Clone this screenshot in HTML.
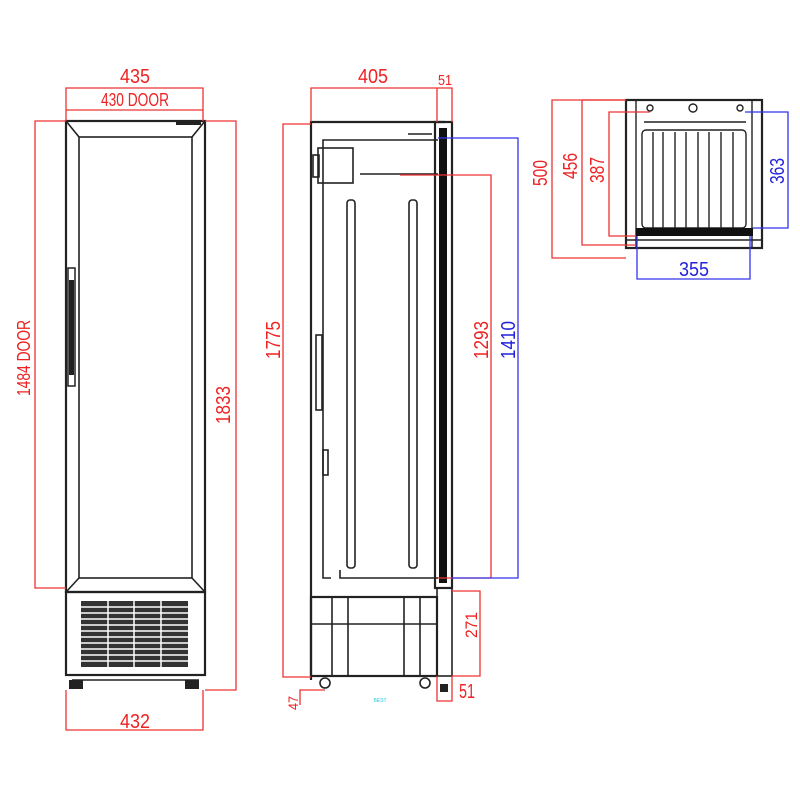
<!DOCTYPE html>
<html><head><meta charset="utf-8"><style>html,body{margin:0;padding:0;background:#fff}svg{display:block}text{font-family:"Liberation Sans",sans-serif}</style></head><body>
<svg width="800" height="800" viewBox="0 0 800 800" xmlns="http://www.w3.org/2000/svg">
<rect width="800" height="800" fill="#fff"/>
<!-- FRONT VIEW -->
<g fill="none" stroke="#222" stroke-width="1.6">
<rect x="66" y="121" width="139" height="471" stroke-width="2.2"/>
<rect x="79" y="137" width="113" height="441"/>
<line x1="66" y1="121" x2="79" y2="137"/><line x1="205" y1="121" x2="192" y2="137"/>
<line x1="66" y1="592" x2="79" y2="578"/><line x1="205" y1="592" x2="192" y2="578"/>
<rect x="66" y="592" width="139" height="83" stroke-width="2.2"/>
<line x1="72" y1="675" x2="199" y2="675"/><line x1="72" y1="680" x2="199" y2="680"/>
</g>
<rect x="176" y="121" width="25" height="4" fill="#222"/>
<rect x="68" y="268" width="7" height="118" fill="none" stroke="#222" stroke-width="1.5"/>
<rect x="69" y="280" width="5" height="95" fill="#222"/>
<rect x="81" y="601" width="107" height="66" fill="#333"/>
<g stroke="#fff" stroke-width="1.5">
<line x1="81" y1="607" x2="188" y2="607"/><line x1="81" y1="613" x2="188" y2="613"/><line x1="81" y1="619" x2="188" y2="619"/><line x1="81" y1="625" x2="188" y2="625"/><line x1="81" y1="631" x2="188" y2="631"/><line x1="81" y1="637" x2="188" y2="637"/><line x1="81" y1="643" x2="188" y2="643"/><line x1="81" y1="649" x2="188" y2="649"/><line x1="81" y1="655" x2="188" y2="655"/><line x1="81" y1="661" x2="188" y2="661"/>
<line x1="108" y1="601" x2="108" y2="667"/><line x1="134" y1="601" x2="134" y2="667"/><line x1="161" y1="601" x2="161" y2="667"/>
</g>
<rect x="69" y="680" width="14" height="9" fill="#222"/><rect x="185" y="680" width="14" height="9" fill="#222"/>
<g stroke="#e33" stroke-width="1.3" fill="none">
<polyline points="66,121 66,88 203,88 203,121"/>
<line x1="66" y1="110" x2="203" y2="110"/>
<polyline points="66,121 35,121 35,588 66,588"/>
<polyline points="205,121 236,121 236,690 205,690"/>
<polyline points="66,690 66,730 203,730 203,690"/>
</g>
<g fill="#e22" font-size="20" text-anchor="middle">
<text x="135" y="83" textLength="30" lengthAdjust="spacingAndGlyphs">435</text>
<text x="135" y="106" font-size="18" textLength="68" lengthAdjust="spacingAndGlyphs">430 DOOR</text>
<text x="135" y="728" textLength="30" lengthAdjust="spacingAndGlyphs">432</text>
<text transform="translate(30,358) rotate(-90)" font-size="18" textLength="76" lengthAdjust="spacingAndGlyphs">1484 DOOR</text>
<text transform="translate(236,405) rotate(-90)" y="-6" textLength="38" lengthAdjust="spacingAndGlyphs">1833</text>
</g>
<!-- SIDE VIEW -->
<g fill="none" stroke="#222" stroke-width="1.6">
<polyline points="311,680 311,122 445,122" stroke-width="2.2"/>
<polyline points="331,578 323,578 323,140 438,140"/>
<polyline points="340,570 340,578 438,578"/>
<rect x="318" y="148" width="35" height="35"/>
<rect x="313" y="155" width="6" height="22"/>
<line x1="360" y1="174" x2="438" y2="174"/>
<rect x="347" y="200" width="8" height="368" rx="3"/>
<rect x="409" y="200" width="8" height="368" rx="3"/>
<rect x="316" y="335" width="6" height="75"/>
<rect x="323" y="450" width="5" height="25"/>
<rect x="435" y="122" width="17" height="466" stroke-width="2.2"/>
<rect x="311" y="597" width="126" height="79" stroke-width="2.2"/>
<line x1="311" y1="624" x2="437" y2="624"/>
<line x1="332" y1="597" x2="332" y2="676"/><line x1="348" y1="597" x2="348" y2="676"/>
<line x1="404" y1="597" x2="404" y2="676"/><line x1="420" y1="597" x2="420" y2="676"/>
<rect x="437" y="588" width="15" height="88"/>
<circle cx="325" cy="683" r="5"/><circle cx="425" cy="683" r="5"/>
<line x1="408" y1="134" x2="432" y2="134"/>
</g>
<rect x="439" y="128" width="8" height="455" fill="#111"/>
<rect x="440" y="684" width="8" height="8" fill="#222"/>
<g stroke="#e33" stroke-width="1.3" fill="none">
<polyline points="311,122 311,88 452,88 452,122"/>
<line x1="437" y1="88" x2="437" y2="122"/>
<polyline points="311,124 283,124 283,677 311,677"/>
<polyline points="400,175 491,175 491,578 438,578"/>
<polyline points="452,591 480,591 480,676 452,676"/>
<polyline points="437,676 437,701 452,701 452,676"/>
<polyline points="325,690 300,690 300,705"/>
</g>
<g stroke="#33e" stroke-width="1.3" fill="none">
<polyline points="438,138 518,138 518,578 452,578"/>
</g>
<g fill="#e22" font-size="20" text-anchor="middle">
<text x="373" y="83" textLength="30" lengthAdjust="spacingAndGlyphs">405</text>
<text x="445" y="85" font-size="15" textLength="14" lengthAdjust="spacingAndGlyphs">51</text>
<text x="467" y="698" textLength="16" lengthAdjust="spacingAndGlyphs">51</text>
<text transform="translate(280,340) rotate(-90)" textLength="38" lengthAdjust="spacingAndGlyphs">1775</text>
<text transform="translate(488,340) rotate(-90)" textLength="38" lengthAdjust="spacingAndGlyphs">1293</text>
<text transform="translate(477,625) rotate(-90)" font-size="17" textLength="26" lengthAdjust="spacingAndGlyphs">271</text>
<text transform="translate(298,703) rotate(-90)" font-size="14" textLength="14" lengthAdjust="spacingAndGlyphs">47</text>
</g>
<text transform="translate(515,340) rotate(-90)" fill="#22d" font-size="20" text-anchor="middle" textLength="38" lengthAdjust="spacingAndGlyphs">1410</text>
<text x="380" y="702" fill="#2cd" font-size="5" text-anchor="middle">BEST</text>
<!-- TOP VIEW -->
<g fill="none" stroke="#222" stroke-width="1.4">
<rect x="626" y="100" width="136" height="148" stroke-width="2.2"/>
<line x1="636" y1="100" x2="636" y2="248"/><line x1="752" y1="100" x2="752" y2="248"/>
<line x1="644" y1="122" x2="746" y2="122"/>
<rect x="642" y="130" width="104" height="98" rx="4"/>
<line x1="653" y1="132" x2="653" y2="228"/><line x1="663" y1="132" x2="663" y2="228"/><line x1="675" y1="132" x2="675" y2="228"/><line x1="686" y1="132" x2="686" y2="228"/><line x1="698" y1="132" x2="698" y2="228"/><line x1="709" y1="132" x2="709" y2="228"/><line x1="721" y1="132" x2="721" y2="228"/><line x1="733" y1="132" x2="733" y2="228"/>
<line x1="626" y1="240" x2="762" y2="240"/>
<circle cx="650" cy="108" r="3"/><circle cx="693" cy="108" r="4"/><circle cx="740" cy="108" r="3"/>
</g>
<rect x="636" y="228" width="117" height="8" fill="#111"/>
<g stroke="#e33" stroke-width="1.3" fill="none">
<polyline points="626,100 552,100 552,258 626,258"/>
<polyline points="626,100 582,100 582,245 636,245"/>
<polyline points="650,112 609,112 609,236 636,236"/>
</g>
<g stroke="#33e" stroke-width="1.3" fill="none">
<polyline points="745,112 788,112 788,228 753,228"/>
<polyline points="637,236 637,279 750,279 750,236"/>
</g>
<g fill="#e22" font-size="20" text-anchor="middle">
<text transform="translate(547,173) rotate(-90)" textLength="26" lengthAdjust="spacingAndGlyphs">500</text>
<text transform="translate(577,166) rotate(-90)" textLength="26" lengthAdjust="spacingAndGlyphs">456</text>
<text transform="translate(604,170) rotate(-90)" textLength="26" lengthAdjust="spacingAndGlyphs">387</text>
</g>
<g fill="#22d" font-size="20" text-anchor="middle">
<text transform="translate(784,171) rotate(-90)" textLength="26" lengthAdjust="spacingAndGlyphs">363</text>
<text x="694" y="276" textLength="30" lengthAdjust="spacingAndGlyphs">355</text>
</g>
</svg>
</body></html>
